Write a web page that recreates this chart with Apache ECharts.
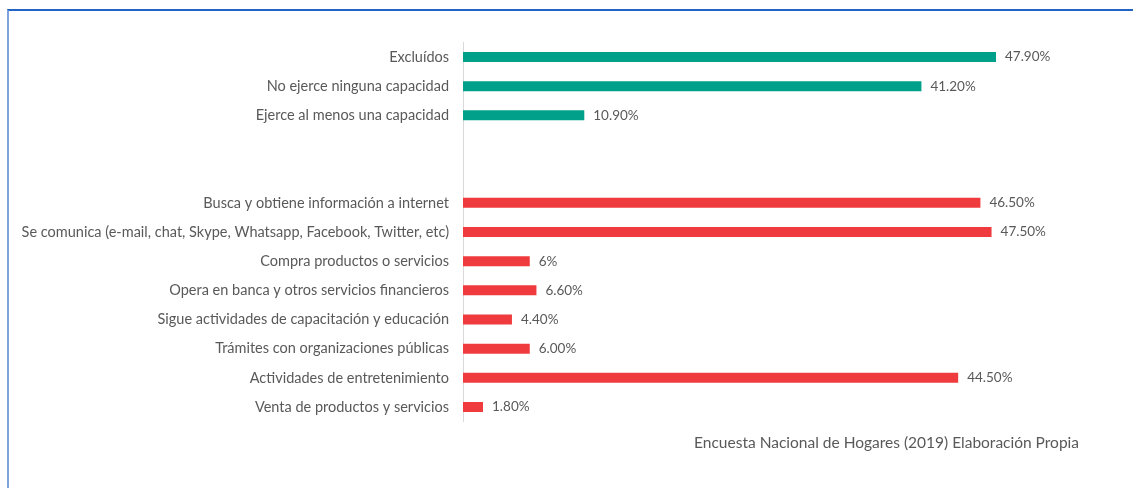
<!DOCTYPE html>
<html>
<head>
<meta charset="utf-8">
<script src="https://cdn.jsdelivr.net/npm/echarts@6/dist/echarts.min.js"></script>
<style>
html,body{margin:0;padding:0;background:#fff;}
#frame{position:absolute;left:7px;top:9px;right:0;bottom:0;border-top:2px solid #2263c4;border-left:2px solid #7fa2da;}
#chart{position:absolute;left:0;top:0;width:1133px;height:488px;}
</style>
</head>
<body>
<div id="frame"></div>
<div id="chart"></div>
<script>
const categories = [
  'Excluídos',
  'No ejerce ninguna capacidad',
  'Ejerce al menos una capacidad',
  '',
  ' ',
  'Busca y obtiene información a internet',
  'Se comunica (e-mail, chat, Skype, Whatsapp, Facebook, Twitter, etc)',
  'Compra productos o servicios',
  'Opera en banca y otros servicios financieros',
  'Sigue actividades de capacitación y educación',
  'Trámites con organizaciones públicas',
  'Actividades de entretenimiento',
  'Venta de productos y servicios'
];
const greenValues = [47.9, 41.2, 10.9, null, null, null, null, null, null, null, null, null, null];
const redValues = [null, null, null, null, null, 46.5, 47.5, 6, 6.6, 4.4, 6.0, 44.5, 1.8];
const valueLabels = ['47.90%', '41.20%', '10.90%', '', '', '46.50%', '47.50%', '6%', '6.60%', '4.40%', '6.00%', '44.50%', '1.80%'];
const sourceText = 'Encuesta Nacional de Hogares (2019) Elaboración Propia';

const chart = echarts.init(document.getElementById('chart'), null, {renderer: 'canvas'});
const fontFam = 'Lato, "Liberation Sans", sans-serif';
const labelCfg = {
  show: true,
  position: 'right',
  distance: 9,
  color: '#595959',
  fontSize: 13.5,
  fontFamily: fontFam,
  formatter: p => valueLabels[p.dataIndex]
};
chart.setOption({
  animation: false,
  title: {
    text: sourceText,
    right: 49,
    top: 430,
    textStyle: {color: '#595959', fontSize: 15.5, fontWeight: 'normal', fontFamily: fontFam}
  },
  grid: {left: 463, top: 42.4, height: 379.2, width: 612, containLabel: false},
  xAxis: {type: 'value', min: 0, max: 55, show: false},
  yAxis: {
    type: 'category',
    data: categories,
    inverse: true,
    axisLine: {show: true, lineStyle: {color: '#d9d9d9', width: 1}},
    axisTick: {show: false},
    axisLabel: {color: '#595959', fontSize: 14.5, fontFamily: fontFam, margin: 14},
    splitLine: {show: false}
  },
  series: [
    {
      type: 'bar', data: greenValues, barWidth: 10, barGap: '-100%',
      itemStyle: {color: '#00a08a'}, label: labelCfg
    },
    {
      type: 'bar', data: redValues, barWidth: 10, barGap: '-100%',
      itemStyle: {color: '#ef3b3e'}, label: labelCfg
    }
  ]
});
</script>
</body>
</html>
